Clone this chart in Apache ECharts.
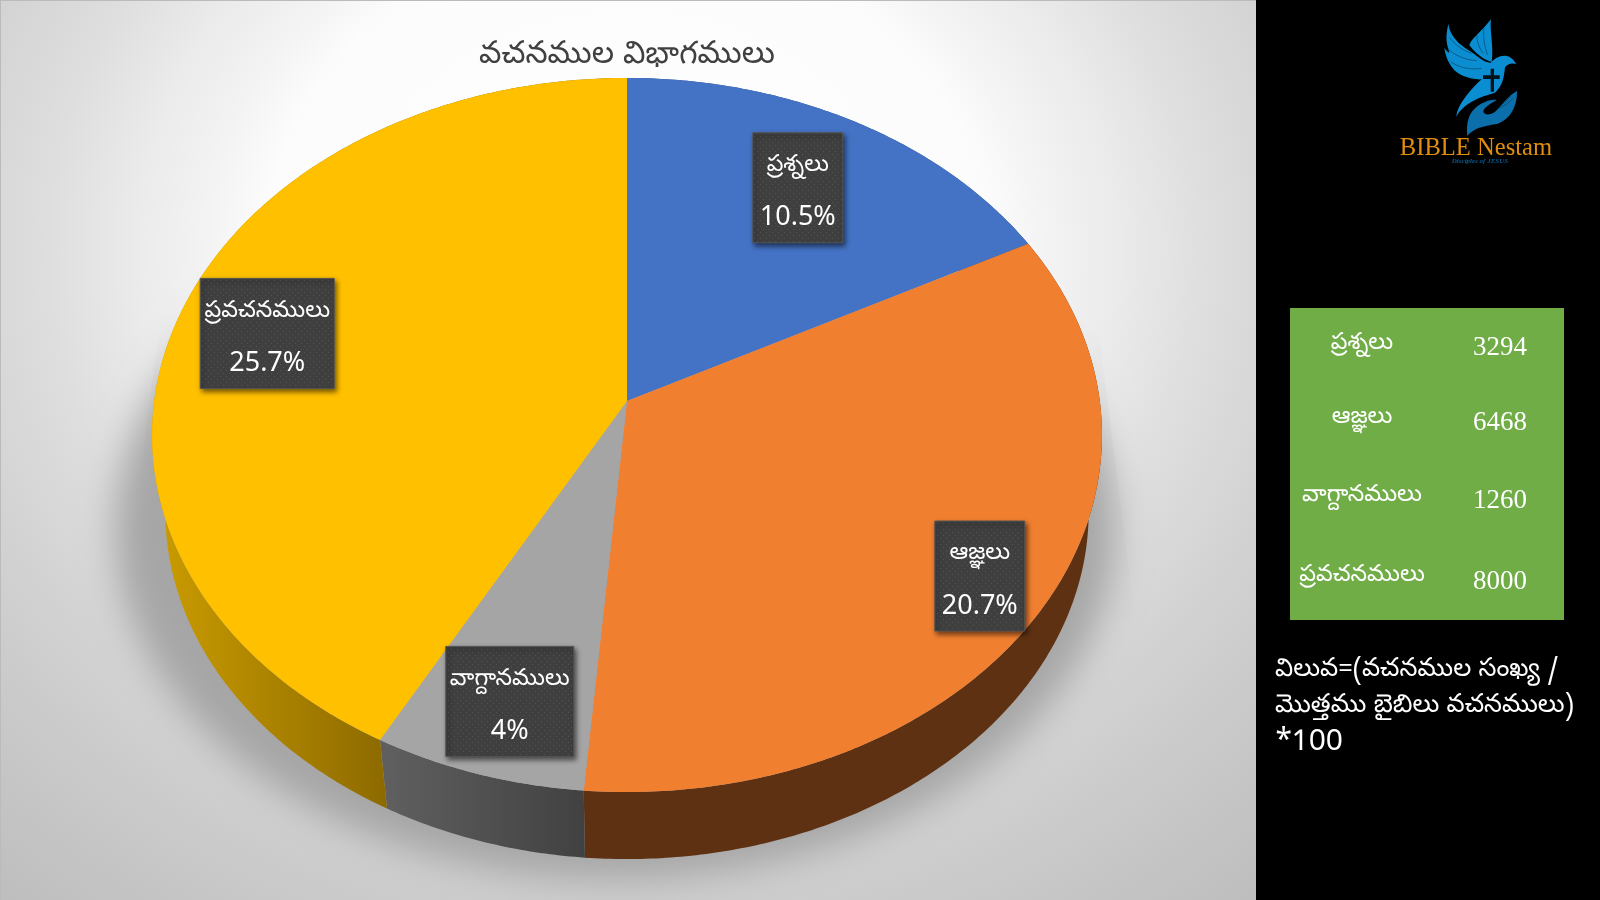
<!DOCTYPE html>
<html>
<head>
<meta charset="utf-8">
<style>html,body{margin:0;padding:0;background:#000}#c{width:1600px;height:900px}</style>
<script src="https://cdn.jsdelivr.net/npm/echarts@6/dist/echarts.min.js"></script>
</head>
<body>
<div id="c"></div>
<script>
// ---- data ----
const titleText = 'వచనముల విభాగములు';
const categories = ['ప్రశ్నలు', 'ఆజ్ఞలు', 'వాగ్దానములు', 'ప్రవచనములు'];
const verseCounts = [3294, 6468, 1260, 8000];
const percentLabels = ['10.5%', '20.7%', '4%', '25.7%'];
const noteLines = ['విలువ=(వచనముల సంఖ్య /', 'మొత్తము బైబిలు వచనములు)', '*100'];

// ---- styles and layout ----
const topColors = ['#4472c4', '#f07f30', '#a5a5a5', '#ffc000'];
const wallStops = [['#2a4a85', '#2a4a85'], ['#5f3113', '#5f3113'], ['#5f5f5f', '#414141'], ['#c89a00', '#8d6a00']];
const wallGradX = [[627, 1028], [584, 1100], [387, 585], [165, 387]];
const labelRadius = [0.74, 0.855, 0.82, 0.80];
const labelShiftX = [0, 0, 3, 0];
const labelShiftY = [-2, 0, 0, 1];
const labelBoxWidth = [90, 90, 128, 134];
const labelBoxHeight = 110;
const PIE = {cx: 627, cy: 401, A: 472.8, B: 353.8, k: 0.0952};
const FLOOR = {cy: 479, s: 0.972};
const TELUGU = '"Noto Sans Telugu","Noto Sans","DejaVu Sans",sans-serif';

const total = verseCounts.reduce((a, b) => a + b, 0);
function project(angle, r, floor) {
  const u = Math.sin(angle) * r, v = Math.cos(angle) * r, w = 1 + PIE.k * v;
  const s = floor ? FLOOR.s : 1, y0 = floor ? FLOOR.cy : PIE.cy;
  return [PIE.cx + s * PIE.A * u / w, y0 - s * PIE.B * v / w];
}
function arc(a0, a1, r, floor) {
  const pts = [], n = Math.max(2, Math.ceil(Math.abs(a1 - a0) / 0.01));
  for (let i = 0; i <= n; i++) pts.push(project(a0 + (a1 - a0) * i / n, r, floor));
  return pts;
}
const dots = document.createElement('canvas');
dots.width = 6; dots.height = 6;
(function () {
  const g = dots.getContext('2d');
  g.fillStyle = '#3f3f3f'; g.fillRect(0, 0, 6, 6);
  g.fillStyle = '#545454';
  g.fillRect(1, 1, 1, 1); g.fillRect(4, 4, 1, 1);
})();

function renderSlice(params, api) {
  const i = params.dataIndex, val = api.value(0);
  let before = 0;
  for (let j = 0; j < i; j++) before += verseCounts[j];
  const a0 = before / total * 2 * Math.PI, a1 = (before + val) / total * 2 * Math.PI;
  const wallPts = arc(a0, a1, 1, false).concat(arc(a1, a0, 1, true));
  const topPts = [project(0, 0, false)].concat(arc(a0, a1, 1, false));
  const p = project((a0 + a1) / 2, labelRadius[i], false);
  const c = [p[0] + labelShiftX[i], p[1] + labelShiftY[i]];
  const w = labelBoxWidth[i], h = labelBoxHeight;
  return {type: 'group', children: [
    {type: 'polygon', z2: 1, shape: {points: wallPts},
      style: {fill: new echarts.graphic.LinearGradient(wallGradX[i][0], 0, wallGradX[i][1], 0,
        [{offset: 0, color: wallStops[i][0]}, {offset: 1, color: wallStops[i][1]}], true)}},
    {type: 'polygon', z2: 2, shape: {points: topPts}, style: {fill: topColors[i]}},
    {type: 'rect', z2: 3, shape: {x: c[0] - w / 2, y: c[1] - h / 2, width: w, height: h},
      style: {fill: {image: dots, repeat: 'repeat'}, stroke: '#555', lineWidth: 1,
        shadowBlur: 5, shadowOffsetX: 2, shadowOffsetY: 3, shadowColor: 'rgba(0,0,0,0.55)'}},
    {type: 'text', z2: 4, x: c[0], y: c[1] - 20,
      style: {text: categories[i], fill: '#fff', font: '23.5px ' + TELUGU, textAlign: 'center', textVerticalAlign: 'middle'}},
    {type: 'text', z2: 4, x: c[0], y: c[1] + 30,
      style: {text: percentLabels[i], fill: '#fff', font: '27px "Noto Sans",sans-serif', textAlign: 'center', textVerticalAlign: 'middle'}}
  ]};
}

// ---- logo artwork, in 3x crop units ----
const logoParts = [
  {d: 'M595 72 C600 110 630 135 655 150 C680 165 700 188 722 188 C735 175 750 165 770 168 C785 172 793 182 798 192 C785 188 772 192 765 202 C762 230 760 255 735 278 C690 290 640 310 618 350 C625 310 660 270 695 238 C660 240 615 225 598 190 C590 175 585 160 583 143 C588 150 592 155 598 158 C590 130 585 115 595 72 Z', fill: '#0a8ed1'},
  {d: 'M658 135 C665 115 690 100 723 58 C718 90 732 140 725 186 C700 178 675 160 658 135 Z', fill: '#0a8ed1'},
  {d: 'M652 408 C648 370 655 340 680 320 C700 305 725 296 740 300 C725 310 702 320 700 335 C705 347 722 345 735 335 C755 318 770 290 801 273 C802 320 780 360 740 372 C700 378 670 385 652 408 Z', fill: '#0a6faa'},
  {d: 'M699 226 L722 226 L722 206 L732 206 L732 226 L749 226 L749 237 L732 237 L732 275 L722 275 L722 237 L699 237 Z', fill: '#04121c'},
  {d: 'M598 112 C615 135 640 152 665 160 M590 142 C610 165 645 180 680 182 M602 185 C630 205 665 210 695 205 M680 100 C680 125 688 145 700 160 M702 85 C698 115 705 140 712 165 M722 188 L700 178', stroke: '#04121c', lineWidth: 1.2},
  {d: 'M735 315 C750 310 765 295 775 282 M730 322 C750 318 770 305 782 288 M728 328 C750 326 775 312 788 295', stroke: '#04121c', lineWidth: 1}
];
function renderLogo(params) {
  const p = logoParts[params.dataIndex];
  const b = echarts.graphic.makePath(p.d).getBoundingRect();
  return {type: 'path', shape: {pathData: p.d, layout: 'cover',
      x: 1250 + b.x / 3, y: b.y / 3, width: b.width / 3, height: b.height / 3},
    style: {fill: p.fill || 'none', stroke: p.stroke || null, lineWidth: (p.lineWidth || 0) / 3}};
}

// ---- page furniture ----
const graphicEls = [
  {type: 'rect', z: 0, scaleY: 0.8696, shape: {x: 0, y: 0, width: 1256, height: 1036},
    style: {fill: new echarts.graphic.RadialGradient(627, 287.5, 1000, [
      {offset: 0, color: '#ffffff'}, {offset: 0.36, color: '#fcfcfc'}, {offset: 0.42, color: '#f3f3f3'},
      {offset: 0.49, color: '#ebebeb'}, {offset: 0.58, color: '#dedede'}, {offset: 0.7, color: '#d2d2d2'},
      {offset: 0.8, color: '#cacaca'}, {offset: 0.956, color: '#bfbfbf'}, {offset: 1, color: '#bdbdbd'}], true)}},
  {type: 'polygon', z: 1, shape: {points: [[162, 310], [1096, 310], [1135, 620], [120, 620]]},
    style: {fill: new echarts.graphic.LinearGradient(0, 310, 0, 640,
      [{offset: 0, color: 'rgba(0,0,0,0)'}, {offset: 0.4, color: 'rgba(0,0,0,0.035)'}, {offset: 1, color: 'rgba(0,0,0,0)'}], true)}},
  {type: 'ellipse', z: 1, shape: {cx: 615 - 3000, cy: 530, rx: 500, ry: 350},
    style: {fill: '#a6a6a6', shadowBlur: 36, shadowOffsetX: 3000, shadowColor: '#a6a6a6'}},
  {type: 'rect', z: 1, shape: {x: 0, y: 0, width: 1256, height: 1}, style: {fill: '#bbbbbb'}},
  {type: 'rect', z: 1, shape: {x: 0, y: 0, width: 1, height: 900}, style: {fill: '#bbbbbb'}},
  {type: 'rect', z: 1, shape: {x: 1256, y: 0, width: 344, height: 900}, style: {fill: '#000'}},
  {type: 'rect', z: 2, shape: {x: 1290, y: 308, width: 274, height: 312}, style: {fill: '#70ad47'}},
  {type: 'text', z: 2, x: 1476, y: 149, style: {text: 'BIBLE Nestam', fill: '#e08e0b',
    font: '24.6px "Liberation Serif",serif', textAlign: 'center', textVerticalAlign: 'middle'}},
  {type: 'text', z: 2, x: 1480, y: 161, style: {text: 'Disciples of JESUS', fill: '#0b5a8e',
    font: 'italic bold 7px "Liberation Serif",serif', textAlign: 'center', textVerticalAlign: 'middle'}}
];
const tableNameY = [346, 420, 498, 578], tableValueY = [348, 423, 501, 582];
categories.forEach((name, i) => {
  graphicEls.push({type: 'text', z: 3, x: 1362, y: tableNameY[i], style: {text: name, fill: '#fff',
    font: '23.5px ' + TELUGU, textAlign: 'center', textVerticalAlign: 'middle'}});
  graphicEls.push({type: 'text', z: 3, x: 1500, y: tableValueY[i], style: {text: String(verseCounts[i]), fill: '#fff',
    font: '27px "Liberation Serif",serif', textAlign: 'center', textVerticalAlign: 'middle'}});
});
const noteY = [672, 708, 746];
noteLines.forEach((line, i) => {
  graphicEls.push({type: 'text', z: 3, x: 1275, y: noteY[i], style: {text: line, fill: '#fff',
    font: (i === 2 ? '30px ' : '25.5px ') + TELUGU, textAlign: 'left', textVerticalAlign: 'middle'}});
});

const chart = echarts.init(document.getElementById('c'), null, {renderer: 'canvas', width: 1600, height: 900});
chart.setOption({
  animation: false,
  backgroundColor: '#000',
  title: {text: titleText, left: 622, top: 37, textAlign: 'center',
    textStyle: {color: '#404040', fontSize: 31.5, fontWeight: 'normal', fontFamily: TELUGU}},
  graphic: {elements: graphicEls},
  series: [
    {type: 'custom', coordinateSystem: 'none', z: 3, silent: true, renderItem: renderSlice,
      data: verseCounts.map(v => [v])},
    {type: 'custom', coordinateSystem: 'none', z: 3, silent: true, renderItem: renderLogo,
      data: logoParts.map((p, i) => [i])}
  ]
});
</script>
</body>
</html>
